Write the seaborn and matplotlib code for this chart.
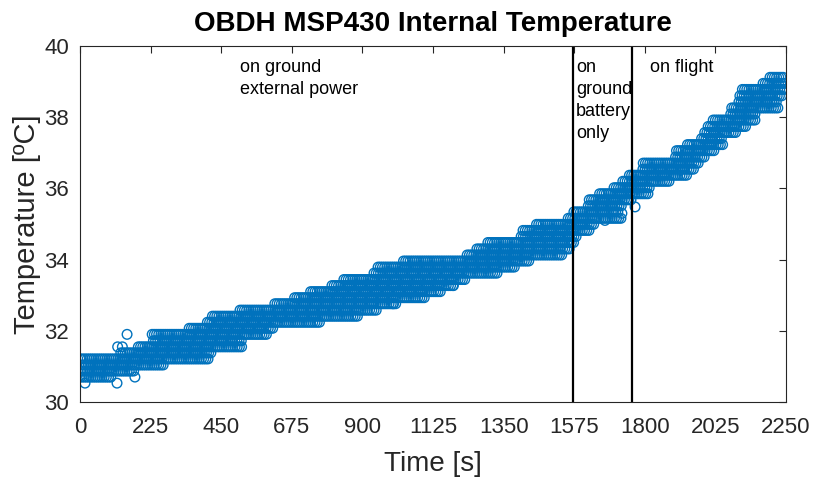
import numpy as np
import pandas as pd
import matplotlib
matplotlib.use("Agg")
import matplotlib.pyplot as plt
import seaborn as sns

# ---- data ----
# quantized temperature levels [ºC] and the time span [s] over which each level is observed
levels = [30.70, 30.87, 31.04, 31.21, 31.38, 31.55, 31.72, 31.90, 32.07, 32.24,
          32.41, 32.58, 32.76, 32.93, 33.10, 33.27, 33.44, 33.62, 33.79, 33.96,
          34.13, 34.30, 34.48, 34.65, 34.82, 34.99, 35.16, 35.34, 35.51, 35.68,
          35.85, 36.02, 36.20, 36.37, 36.54, 36.71, 36.88, 37.06, 37.23, 37.40,
          37.57, 37.74, 37.92, 38.09, 38.26, 38.43, 38.60, 38.78, 38.95, 39.12]
band_start = [0, 0, 0, 0, 125, 185, 230, 230, 345, 400,
              420, 505, 620, 680, 735, 800, 835, 935, 945, 1030,
              1230, 1265, 1297, 1400, 1410, 1450, 1555, 1570, 1620, 1620,
              1650, 1700, 1725, 1750, 1790, 1795, 1895, 1895, 1934, 1976,
              1990, 1998, 2018, 2071, 2071, 2098, 2098, 2110, 2173, 2199]
band_end = [100, 175, 265, 410, 420, 515, 520, 600, 620, 765,
            890, 946, 1010, 1100, 1150, 1190, 1230, 1330, 1390, 1435,
            1540, 1560, 1575, 1585, 1625, 1640, 1730, 1720, 1730, 1760,
            1810, 1815, 1880, 1935, 1955, 1975, 1990, 2025, 2050, 2050,
            2093, 2125, 2152, 2155, 2230, 2225, 2241, 2247, 2247, 2247]
# isolated readings
outlier_time = [16, 118, 175, 150, 120, 135, 1673, 1727, 1769, 1190, 998]
outlier_temp = [30.53, 30.53, 30.70, 31.90, 31.55, 31.55, 35.10, 35.30, 35.48, 33.27, 32.76]

sample_step = 7  # seconds between plotted readings on one level

phase_times = [1572, 1760]
phase_labels = ["on ground\nexternal power", "on\nground\nbattery\nonly", "on flight"]
phase_label_x = [510, 1581, 1816]

xticks = [0, 225, 450, 675, 900, 1125, 1350, 1575, 1800, 2025, 2250]
yticks = [30, 32, 34, 36, 38, 40]

# ---- build table ----
ts, Ts = [], []
for i, (lv, a, b) in enumerate(zip(levels, band_start, band_end)):
    t = np.arange(a + (i * 3) % sample_step, b + 1, sample_step)
    ts.extend(t.tolist())
    Ts.extend([lv] * len(t))
ts.extend(outlier_time)
Ts.extend(outlier_temp)
df = pd.DataFrame({"Time [s]": ts, "Temperature": Ts})

# ---- plot ----
sns.set_style("white")
plt.rcParams["font.family"] = ["Liberation Sans", "DejaVu Sans"]
fig = plt.figure(figsize=(8.17, 4.79), dpi=100)
ax = fig.add_axes([80 / 817, 1 - 402 / 479, 706 / 817, 356 / 479])

blue = "#0072BD"
sns.scatterplot(data=df, x="Time [s]", y="Temperature", ax=ax,
                marker="o", s=48, facecolor="none", edgecolor=blue,
                linewidth=1.0, legend=False)

for xv in phase_times:
    ax.axvline(xv, color="black", lw=1.6)

for lab, xv in zip(phase_labels, phase_label_x):
    ax.text(xv, 39.64, lab, ha="left", va="top", fontsize=13,
            linespacing=1.38, color="black")

ax.set_xlim(0, 2250)
ax.set_ylim(30, 40)
ax.set_xticks(xticks)
ax.set_yticks(yticks)
gray = "#262626"
ax.tick_params(direction="in", length=5, width=0.8, colors=gray,
               labelsize=16, top=True, right=True)
ax.tick_params(axis="x", pad=11)
ax.tick_params(axis="y", pad=8)
for sp in ax.spines.values():
    sp.set_color(gray)
    sp.set_linewidth(0.8)
    sp.set_visible(True)
ax.set_xlabel("Time [s]", fontsize=20, color=gray, labelpad=9)
ax.set_ylabel("Temperature [ºC]", fontsize=21, color=gray, labelpad=2)
ax.set_title("OBDH MSP430 Internal Temperature", fontsize=20,
             fontweight="bold", color="black", pad=11)

fig.savefig("out.png", dpi=100)
